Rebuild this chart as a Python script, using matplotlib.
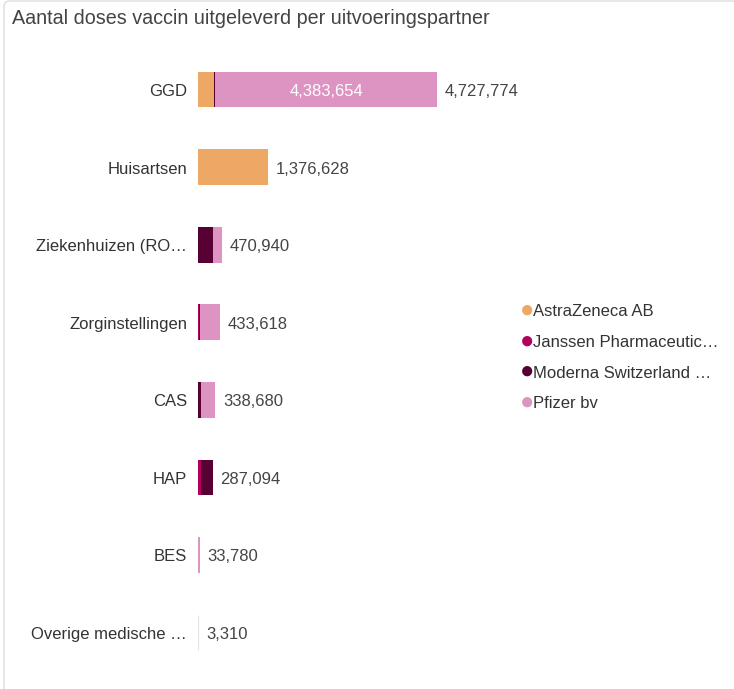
import matplotlib
matplotlib.use("Agg")
import matplotlib.pyplot as plt
from matplotlib.patches import FancyBboxPatch
import numpy as np

categories = ["GGD", "Huisartsen", "Ziekenhuizen (RO…", "Zorginstellingen", "CAS", "HAP", "BES", "Overige medische …"]
totals = [4727774, 1376628, 470940, 433618, 338680, 287094, 33780, 3310]
series_names = ["AstraZeneca AB", "Janssen Pharmaceutic…", "Moderna Switzerland …", "Pfizer bv"]
astrazeneca = [320000, 1376628, 2000, 8000, 5000, 5000, 0, 0]
janssen = [0, 0, 0, 12000, 0, 60000, 0, 0]
moderna = [24120, 0, 290000, 15000, 60000, 222094, 0, 0]
pfizer = [4383654, 0, 178940, 398618, 273680, 0, 33780, 3310]
colors = ["#EDA866", "#B3005F", "#570033", "#DE94C2"]
inside_label = {0: "4,383,654"}

plt.rcParams['font.family'] = ['Liberation Sans', 'DejaVu Sans']

fig = plt.figure(figsize=(7.34, 6.89), dpi=100)
fig.patch.set_facecolor("white")

# card border
card = FancyBboxPatch((4/734, -0.05), 1.2, 1.05 - 1/689,
                      boxstyle="round,pad=0,rounding_size=0.008",
                      transform=fig.transFigure, facecolor="none",
                      edgecolor="#dddddd", linewidth=1.0, zorder=-5)
fig.patches.append(card)

fig.text(12/734, 1 - 18/689, "Aantal doses vaccin uitgeleverd per uitvoeringspartner",
         fontsize=14.2, color="#444444", va="center", ha="left")

XMAX = 4727774 * 302/239
ax_left = 198/734
ax_w = 302/734
ax_top = 50.8
ax_h = 620.6
ax = fig.add_axes([ax_left, 1 - (ax_top + ax_h)/689, ax_w, ax_h/689])
ax.set_xlim(0, XMAX)
ax.set_ylim(7.5, -0.5)
ax.axis("off")

y = np.arange(len(categories))
series = [astrazeneca, janssen, moderna, pfizer]
left = np.zeros(len(categories))
for name, vals, c in zip(series_names, series, colors):
    vals = np.array(vals, dtype=float)
    ax.barh(y, vals, left=left, height=0.46, color=c, label=name, linewidth=0)
    left += vals
# faint baseline stroke for the tiny last bar
ax.barh(y[-1:], pfizer[-1:], left=left[-1:] - pfizer[-1], height=0.46,
        color="none", edgecolor="#e8e0e6", linewidth=0.8)

px = XMAX / 302
dy = 0.025
for i, t in enumerate(totals):
    ax.text(t + 8 * px, i + dy, f"{t:,}", va="center", ha="left",
            fontsize=12, color="#444444", clip_on=False)
    ax.text(-11 * px, i + dy, categories[i], va="center", ha="right",
            fontsize=12, color="#333333", clip_on=False)
for i, lab in inside_label.items():
    ax.text(astrazeneca[i] + janssen[i] + moderna[i] + pfizer[i] / 2, i + dy, lab,
            va="center", ha="center", fontsize=12, color="white")

# legend
leg_y = [311, 342, 372, 403]
for name, c, ly in zip(series_names, colors, leg_y):
    fig.text(527/734, 1 - ly/689, "●", color=c, fontsize=17, va="center", ha="center")
    fig.text(533/734, 1 - (ly + 1)/689, name, color="#333333", fontsize=12, va="center", ha="left")

fig.savefig("out.png", dpi=100, facecolor="white")
